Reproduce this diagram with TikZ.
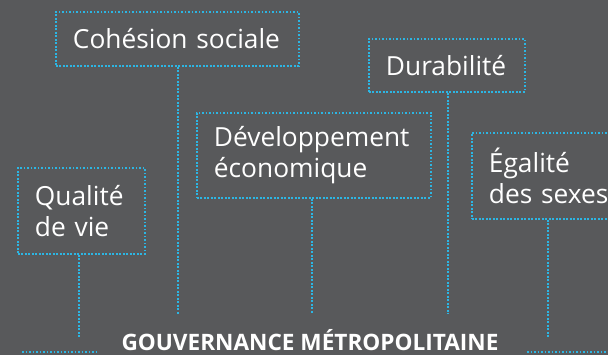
\documentclass[tikz,border=0pt]{standalone}
\usepackage{fontspec}
\setmainfont{Open Sans}
\usetikzlibrary{calc}
\definecolor{bg}{HTML}{58595B}
\definecolor{dotc}{HTML}{2CB6E4}
\tikzset{
  dotline/.style={draw=dotc, line width=1.9pt, dash pattern=on 1.8pt off 1.7pt},
  box/.style={dotline, rectangle, anchor=north west, align=left, text=white,
    font=\fontsize{26.3}{31}\selectfont, inner xsep=17pt, inner ysep=0pt},
  titletext/.style={text=white, font=\bfseries\fontsize{22.6}{23}\selectfont, inner sep=0pt}
}
\begin{document}
\begin{tikzpicture}[x=1pt,y=-1pt]
\fill[bg] (0,0) rectangle (608,355);
\useasboundingbox (0,0) rectangle (608,355);
\clip (0,0) rectangle (608,355);
\node[box, minimum width=243pt, minimum height=54pt, text width=209pt] (coh) at (55,11) {Cohésion sociale};
\node[box, minimum width=156pt, minimum height=53pt, text width=122pt] (dur) at (368,38) {Durabilité};
\node[box, minimum width=234pt, minimum height=85pt, text width=200pt] (dev) at (196,112) {Développement\\économique};
\node[box, minimum width=154pt, minimum height=86pt, text width=120pt] (ega) at (471,132) {Égalité\\des sexes};
\node[box, minimum width=127pt, minimum height=86pt, text width=93pt] (qua) at (17,167) {Qualité\\de vie};
\node[titletext, anchor=base] (gov) at (310,350.5) {GOUVERNANCE MÉTROPOLITAINE};
\coordinate (ecoh) at (178,314);
\coordinate (edur) at (448,314);
\coordinate (edev) at (312,314);
\coordinate (eega) at (548,338);
\coordinate (equa) at (79,338);
\draw[dotline] (coh.south -| ecoh) -- (ecoh);
\draw[dotline] (dur.south -| edur) -- (edur);
\draw[dotline] (dev.south -| edev) -- (edev);
\draw[dotline] (ega.south -| eega) -- (eega);
\draw[dotline] (qua.south -| equa) -- (equa);
\coordinate (la) at (22,352);
\coordinate (lb) at (96,352);
\coordinate (ra) at (527,352);
\coordinate (rb) at (608,352);
\draw[dotline] (la) -- (lb);
\draw[dotline] (ra) -- (rb);
\end{tikzpicture}
\end{document}
